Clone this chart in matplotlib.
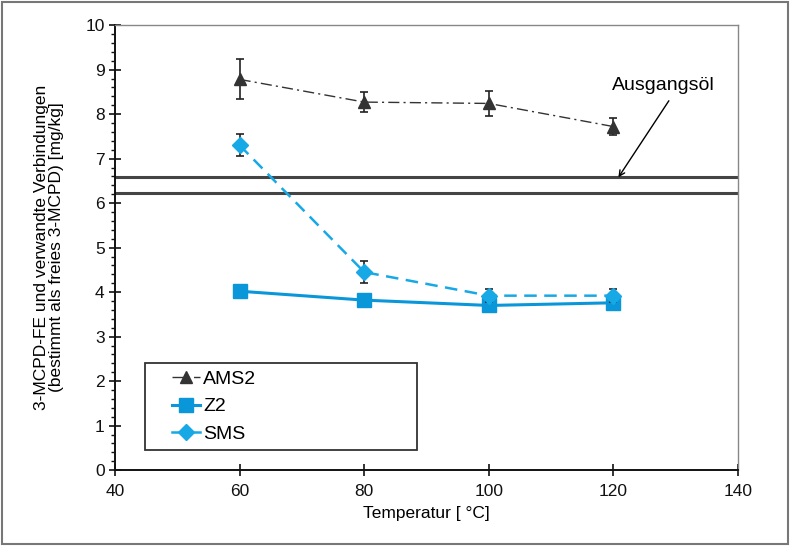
import matplotlib.pyplot as plt
from matplotlib.lines import Line2D
from matplotlib.ticker import MultipleLocator

plt.rcParams['font.family'] = ['Liberation Sans', 'DejaVu Sans']

temps = [60, 80, 100, 120]
ams2 = [8.78, 8.27, 8.24, 7.72]
ams2_err = [0.45, 0.22, 0.28, 0.2]
z2 = [4.02, 3.82, 3.70, 3.76]
sms = [7.30, 4.45, 3.92, 3.92]
sms_err = [0.25, 0.25, 0.15, 0.15]
ausgangsoel = [6.58, 6.22]

c_ams = '#333333'
c_z2 = '#0a97d9'
c_sms = '#16a9e6'
ams_ls = (0, (8, 3, 1.5, 3))
sms_ls = (0, (5, 3))

fig = plt.figure(figsize=(7.9, 5.46), dpi=100)
ax = fig.add_axes([0.1456, 0.139, 0.7886, 0.815])

# outer frame
fig.patches.append(plt.Rectangle((0.002, 0.004), 0.995, 0.992, transform=fig.transFigure,
                                 fill=False, edgecolor='#777777', linewidth=1.5))

for y in ausgangsoel:
    ax.axhline(y, color='#444444', linewidth=2.2, zorder=1)

ax.errorbar(temps, ams2, yerr=ams2_err, color=c_ams, linestyle=ams_ls,
            linewidth=1.0, marker='^', markersize=9, ecolor='#222222', elinewidth=1.2,
            capsize=3, capthick=1.2, zorder=3)
ax.plot(temps, z2, color=c_z2, linewidth=2.2, marker='s', markersize=9.5, zorder=4)
ax.errorbar(temps, sms, yerr=sms_err, color=c_sms, linestyle=sms_ls,
            linewidth=1.8, marker='D', markersize=8, ecolor='#222222', elinewidth=1.2,
            capsize=3, capthick=1.2, zorder=5)

ax.set_xlim(40, 140)
ax.set_ylim(0, 10)
ax.xaxis.set_major_locator(MultipleLocator(20))
ax.yaxis.set_major_locator(MultipleLocator(1))
ax.yaxis.set_minor_locator(MultipleLocator(0.2))

for s in ['left', 'bottom']:
    ax.spines[s].set_color('#111111')
    ax.spines[s].set_linewidth(1.4)
for s in ['top', 'right']:
    ax.spines[s].set_color('#888888')
    ax.spines[s].set_linewidth(1.0)

ax.tick_params(axis='both', which='major', direction='inout', length=8, width=1.2,
               labelsize=12.5, colors='#111111')
ax.tick_params(axis='y', which='minor', direction='out', length=3, width=1.0, color='#111111')
ax.tick_params(axis='x', which='major', pad=6)

ax.set_xlabel('Temperatur [ °C]', fontsize=12.5, labelpad=5)
ax.set_ylabel('3-MCPD-FE und verwandte Verbindungen\n(bestimmt als freies 3-MCPD) [mg/kg]',
              fontsize=12.5, linespacing=1.0)
ax.yaxis.set_label_coords(-0.082, 0.5)

ax.text(128.0, 8.45, 'Ausgangsöl', fontsize=14, ha='center', va='bottom')
ax.annotate('', xy=(120.8, 6.58), xytext=(128.9, 8.3),
            arrowprops=dict(arrowstyle='->', color='black', lw=1.0, shrinkA=0, shrinkB=0))

# legend frame drawn separately so the entries can sit indented
ax.add_patch(plt.Rectangle((0.048, 0.045), 0.437, 0.195, transform=ax.transAxes,
                           fill=False, edgecolor='#333333', linewidth=1.3, zorder=6))
handles = [
    Line2D([], [], color=c_ams, linestyle=ams_ls, linewidth=1.0, marker='^', markersize=9),
    Line2D([], [], color=c_z2, linewidth=2.2, marker='s', markersize=9.5),
    Line2D([], [], color=c_sms, linestyle='-', linewidth=1.8, marker='D', markersize=8),
]
labels = ['AMS2', 'Z2', 'SMS']
leg = ax.legend(handles, labels, loc='upper left', bbox_to_anchor=(0.0915, 0.224),
                frameon=False, fontsize=14, handlelength=1.45, handletextpad=0.15,
                borderaxespad=0, borderpad=0, labelspacing=0.5)

fig.savefig('out.png', dpi=100)
